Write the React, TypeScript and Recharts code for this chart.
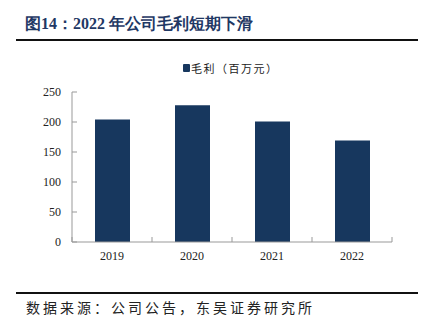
import { BarChart, Bar, XAxis, YAxis } from "recharts";

const years = ["2019", "2020", "2021", "2022"];
const grossProfit = [204, 228, 201, 169];
const yTicks = [0, 50, 100, 150, 200, 250];

const data = years.map((year, i) => ({ year, profit: grossProfit[i] }));

const NAVY = "#17375e";
const AXIS = "#999";
const serif = "'Liberation Serif', 'Times New Roman', serif";
const cjk = "'Noto Sans CJK SC', sans-serif";

// category label plus inward tick marks on the band edges
const YearTick = (props: any) => {
  const { x, y, payload, index, visibleTicksCount } = props;
  const half = payload.offset ?? 0;
  const last = index === visibleTicksCount - 1;
  return (
    <g>
      <line x1={x - half} x2={x - half} y1={y} y2={y - 5} stroke={AXIS} />
      {last && (
        <line x1={x + half} x2={x + half} y1={y} y2={y - 5} stroke={AXIS} />
      )}
      <text
        x={x}
        y={y + 9}
        dy="0.71em"
        textAnchor="middle"
        fill="#222"
        fontSize={12}
        fontFamily={serif}
      >
        {payload.value}
      </text>
    </g>
  );
};

export default function App() {
  return (
    <div
      style={{
        position: "absolute",
        left: 0,
        top: 0,
        width: 422,
        height: 326,
        background: "#fff",
      }}
    >
      <div
        style={{
          position: "absolute",
          left: 25,
          top: 14,
          fontFamily: serif,
          fontWeight: "bold",
          fontSize: 16,
          color: "#1f3864",
          whiteSpace: "nowrap",
        }}
      >
        图14：2022 年公司毛利短期下滑
      </div>
      <div
        style={{
          position: "absolute",
          left: 16,
          top: 39,
          width: 402,
          height: 2,
          background: "#111",
        }}
      />

      {/* legend */}
      <div
        style={{
          position: "absolute",
          left: 183,
          top: 60,
          display: "flex",
          alignItems: "center",
          fontFamily: cjk,
          fontSize: 11,
          color: "#222",
          letterSpacing: 1.5,
          whiteSpace: "nowrap",
        }}
      >
        <span
          style={{
            width: 7,
            height: 8,
            background: NAVY,
            display: "inline-block",
            marginRight: 1,
            borderRadius: 1,
          }}
        />
        毛利（百万元）
      </div>

      <div style={{ position: "absolute", left: 0, top: 0 }}>
        <BarChart
          width={422}
          height={326}
          data={data}
          margin={{ top: 92, right: 30, bottom: 54, left: 32 }}
        >
          <XAxis
            dataKey="year"
            height={30}
            tickLine={false}
            tickSize={0}
            tickMargin={0}
            axisLine={{ stroke: AXIS }}
            tick={YearTick}
          />
          <YAxis
            width={40}
            domain={[0, 250]}
            ticks={yTicks}
            tickSize={-5}
            tickMargin={16}
            axisLine={{ stroke: AXIS }}
            tickLine={{ stroke: AXIS }}
            tick={{ fill: "#222", fontSize: 12, fontFamily: serif }}
          />
          <Bar
            dataKey="profit"
            fill={NAVY}
            barSize={35}
            isAnimationActive={false}
          />
        </BarChart>
      </div>

      <div
        style={{
          position: "absolute",
          left: 16,
          top: 292,
          width: 402,
          height: 1.5,
          background: "#111",
        }}
      />
      <div
        style={{
          position: "absolute",
          left: 26,
          top: 297,
          fontFamily: cjk,
          fontSize: 14,
          letterSpacing: 3,
          color: "#222",
          whiteSpace: "nowrap",
        }}
      >
        数据来源：公司公告，东吴证券研究所
      </div>
    </div>
  );
}
